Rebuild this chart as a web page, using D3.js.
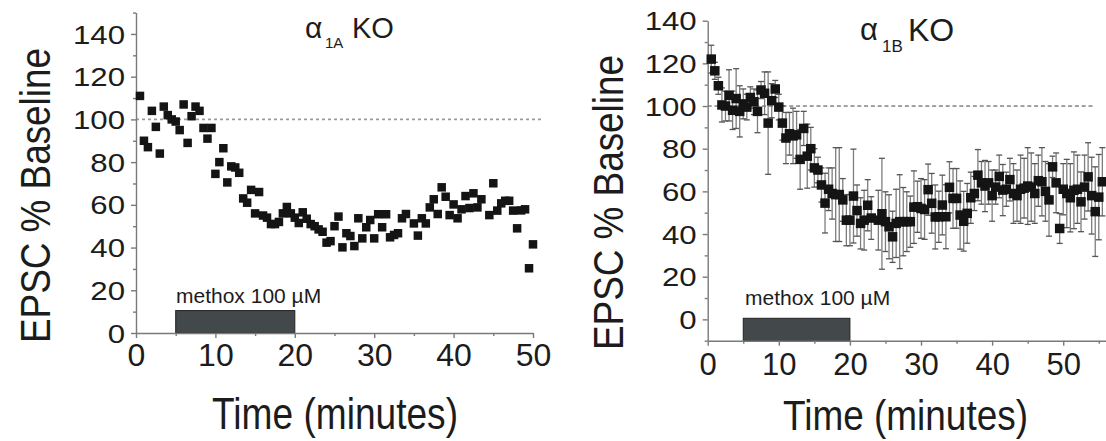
<!DOCTYPE html>
<html><head><meta charset="utf-8">
<script src="https://cdn.jsdelivr.net/npm/d3@7"></script>
<style>
body{margin:0;background:#fff;}
svg{display:block;}
text{font-family:"Liberation Sans",Arial,sans-serif;fill:#1c1c1c;}
</style>
</head><body>
<svg id="c" width="1106" height="441"></svg>
<script>
// ---------- data ----------
const leftTimes = [0.5,1,1.5,2,2.5,3,3.5,4,4.5,5,5.5,6,6.5,7,7.5,8,8.5,9,9.5,10,
  10.5,11,11.5,12,12.5,13,13.5,14,14.5,15,15.5,16,16.5,17,17.5,18,18.5,19,19.5,20,
  20.5,21,21.5,22,22.5,23,23.5,24,24.5,25,25.5,26,26.5,27,27.5,28,28.5,29,29.5,30,
  30.5,31,31.5,32,32.5,33,33.5,34,35,35.5,36,36.5,37,37.5,38,38.5,39,39.5,40,
  40.5,41,41.5,42,42.5,43,43.5,44.5,45,45.5,46,46.5,47,47.5,48,48.5,49,49.5,50];
const leftValues = [111,90,87,104,96.5,84,106,102,100,99,95,107,89,101.5,106,104,96,91,96,74.5,
  80,86.5,70.5,78,77.5,75,63,61,67,56,66,55,54,51,51,52,56,59,56,54,
  51.5,56.5,53.5,51,50,48.5,47.4,42.3,43,50,54.5,40.1,46.7,45.4,40.7,53.7,44.3,49.5,52.9,44.3,
  55.6,49.5,55.6,44.8,45.9,46.7,53.7,55.7,51.3,45.6,53.7,51.3,58.8,62.6,55.7,68.2,63.8,55.2,60.2,
  53.7,57.9,64.1,58.5,65.4,58.8,62.6,55.2,70.1,57.3,60.7,61.9,61.9,57.3,49,57.4,57.9,30.3,41.5];

const rightTimes = [0.5,1,1.5,2,2.5,3,3.5,4,4.5,5,5.5,6,6.5,7,7.5,8,8.5,9,9.5,10,
  10.5,11,11.5,12,12.5,13,13.5,14,14.5,15,15.5,16,16.5,17,17.5,18,18.5,19,19.5,20,
  20.5,21,21.5,22,22.5,23,24,24.5,25,25.5,26,26.5,27,27.5,28,28.5,29,29.5,30,
  30.5,31,31.5,32,32.5,33,33.5,34,34.5,35,35.5,36,36.5,37,37.5,38,38.5,39,39.5,40,
  40.5,41,41.5,42,42.5,43,43.5,44,44.5,45,45.5,46,46.5,47,47.5,48,48.5,49,49.5,50,
  50.5,51,51.5,52,52.5,53,53.5,54,54.5,55,55.5];
const rightValues = [122,116.5,109.5,100.5,100,105,98,103.5,97.5,101,99.5,104,102,97.5,107.5,106,92,102.5,108,99.5,
  92,85,87,86,86.5,75,89.5,76.5,80,71,70,63,54.5,61,59,58.5,58.5,56,46.5,46.5,
  57.8,51,45,46.5,53.5,47.5,46.5,49.5,45.8,43.4,38.7,45,45.8,45.8,45.8,45.8,52.6,52.8,52,
  51.5,60.8,54.4,48,48.1,53.6,48.1,61.9,56.7,56.7,48.9,46,49.7,57,59,67.6,64,62.5,64,58,
  62,67,60.6,61,65.5,59,58,61,61.5,62.5,62,59,65,64.5,60,56,71.5,64,42.6,61,
  59,57,60.5,61,55.1,62,66.8,58,50.5,57.3,64.5];
const rightErrors = [6.5,4,4,8,7,12,9,14,12,7,6,5,6,10,4,10,24,8,4,6,
  8,12,10,13,11,14,8,15,10,9,6,8,14,10,12,22,22,10,12,12,
  22,12,12,14,12,10,14,26,14,15,12,16,22,16,14,12,17,12,14,
  14,12,14,15,12,14,15,12,14,14,16,14,14,12,8,12,10,12,10,12,
  8,10,12,8,10,14,12,16,14,18,16,14,12,16,14,17,5,14,7,12,
  16,16,18,16,14,15,16,18,21,20,16];

const xTickLabels = [0,10,20,30,40,50];
const yTickLabels = [0,20,40,60,80,100,120,140];
const leftTitle = ["α","1A","KO"];
const rightTitle = ["α","1B","KO"];
const drugLabel = "methox 100 µM";
const xLabel = "Time (minutes)";
const yLabel = "EPSC % Baseline";

// ---------- layout ----------
const svg = d3.select("#c");
const panels = [
  {times: leftTimes, values: leftValues, errors: null, title: leftTitle,
   xDomain:[0,50], xRange:[136,533], yDomain:[0,150], yRange:[333,12.6],
   xMinor:[5,15,25,35,45], yMinor:[10,30,50,70,90,110,130,150],
   dotEnd: 51, barTop: 10.5, markerSize: 8.5,
   dotColor:"#9a9a9a", dotDash:"3,3", dotWidth:1.7,
   xLabelPos:[335,429,45,246], yLabelPos:[50,195.5,42,295],
   xTickFont:32, xTickOffset:10, drugPos:[176,303],
   titlePos:{a:[305,38,30], sub:[325,48,15], ko:[352,38,29]}},
  {times: rightTimes, values: rightValues, errors: rightErrors, title: rightTitle,
   xDomain:[0,56], xRange:[707.7,1105.9], yDomain:[-10,140], yRange:[340.7,20.7],
   xMinor:[5,15,25,35,45,55], yMinor:[-10,10,30,50,70,90,110,130],
   dotEnd: 54.5, barTop: 0.5, markerSize: 9.5,
   dotColor:"#444", dotDash:"4,2.8", dotWidth:1,
   xLabelPos:[905.5,430,42,245], yLabelPos:[623,202.5,42,295],
   xTickFont:31, xTickOffset:12, drugPos:[745,305],
   titlePos:{a:[860,40,31], sub:[882,52,17], ko:[908,41,32]}}
];

panels.forEach(p => {
  const g = svg.append("g");
  const x = d3.scaleLinear().domain(p.xDomain).range(p.xRange);
  const y = d3.scaleLinear().domain(p.yDomain).range(p.yRange);
  const yBase = p.yDomain[0];

  // baseline 100% dotted line
  g.append("line")
    .attr("x1", x(0)).attr("x2", x(p.dotEnd))
    .attr("y1", y(100)).attr("y2", y(100))
    .attr("stroke", p.dotColor).attr("stroke-width", p.dotWidth)
    .attr("stroke-dasharray", p.dotDash);

  // drug application bar
  g.append("rect")
    .attr("x", x(5)).attr("width", x(20) - x(5))
    .attr("y", y(p.barTop)).attr("height", y(yBase) - y(p.barTop))
    .attr("fill", "#43484b").attr("stroke", "#222").attr("stroke-width", 1);

  g.append("text").attr("x", p.drugPos[0]).attr("y", p.drugPos[1])
    .attr("font-size", 21).text(drugLabel);

  // axes
  const xAxis = g.append("g").attr("transform", `translate(0,${y(yBase)})`)
    .call(d3.axisBottom(x).tickValues(xTickLabels).tickSize(5).tickSizeOuter(0)
      .tickFormat(d3.format("d")));
  const xMinorAxis = g.append("g").attr("transform", `translate(0,${y(yBase)})`)
    .call(d3.axisBottom(x).tickValues(p.xMinor).tickSize(3).tickFormat(""));
  const yAxis = g.append("g").attr("transform", `translate(${x(0)},0)`)
    .call(d3.axisLeft(y).tickValues(yTickLabels).tickSize(5).tickSizeOuter(0)
      .tickFormat(d3.format("d")));
  const yMinorAxis = g.append("g").attr("transform", `translate(${x(0)},0)`)
    .call(d3.axisLeft(y).tickValues(p.yMinor).tickSize(3).tickFormat(""));
  [xMinorAxis, yMinorAxis].forEach(a => a.select(".domain").remove());
  [xAxis, xMinorAxis, yAxis, yMinorAxis].forEach(a => {
    a.selectAll("path,line").attr("stroke", "#7a7a7a").attr("stroke-width", 1.4);
  });
  xAxis.selectAll(".tick text")
    .attr("font-size", p.xTickFont).attr("fill", "#1c1c1c")
    .attr("y", p.xTickOffset).attr("dy", "0.71em")
    .style("font-family", '"Liberation Sans",Arial,sans-serif');
  const sx = 1.2;
  yAxis.selectAll(".tick text")
    .attr("font-size", 26).attr("fill", "#1c1c1c")
    .attr("x", -11 / sx).attr("dy", "0.35em")
    .attr("transform", `scale(${sx},1)`)
    .style("font-family", '"Liberation Sans",Arial,sans-serif');

  // error bars
  const pts = p.times.map((t, i) => ({t, v: p.values[i], e: p.errors ? p.errors[i] : 0}));
  if (p.errors) {
    const eb = g.append("g").attr("stroke", "#7d7d7d").attr("stroke-width", 1.3);
    pts.forEach(d => {
      eb.append("line").attr("x1", x(d.t)).attr("x2", x(d.t))
        .attr("y1", y(d.v - d.e)).attr("y2", y(d.v + d.e));
      [d.v - d.e, d.v + d.e].forEach(c => {
        eb.append("line").attr("x1", x(d.t) - 3).attr("x2", x(d.t) + 3)
          .attr("y1", y(c)).attr("y2", y(c)).attr("stroke", "#555");
      });
    });
  }

  // markers
  const s = p.markerSize;
  g.append("g").selectAll("rect").data(pts).join("rect")
    .attr("x", d => x(d.t) - s / 2).attr("y", d => y(d.v) - s / 2)
    .attr("width", s).attr("height", s).attr("fill", "#141414");

  // axis titles
  g.append("text").attr("x", p.xLabelPos[0]).attr("y", p.xLabelPos[1])
    .attr("text-anchor", "middle").attr("font-size", p.xLabelPos[2])
    .attr("textLength", p.xLabelPos[3]).attr("lengthAdjust", "spacingAndGlyphs")
    .text(xLabel);
  g.append("text")
    .attr("transform", `translate(${p.yLabelPos[0]},${p.yLabelPos[1]}) rotate(-90)`)
    .attr("text-anchor", "middle").attr("font-size", p.yLabelPos[2])
    .attr("textLength", p.yLabelPos[3]).attr("lengthAdjust", "spacingAndGlyphs")
    .text(yLabel);

  // panel title
  const tp = p.titlePos;
  g.append("text").attr("x", tp.a[0]).attr("y", tp.a[1]).attr("font-size", tp.a[2]).text(p.title[0]);
  g.append("text").attr("x", tp.sub[0]).attr("y", tp.sub[1]).attr("font-size", tp.sub[2]).text(p.title[1]);
  g.append("text").attr("x", tp.ko[0]).attr("y", tp.ko[1]).attr("font-size", tp.ko[2]).text(p.title[2]);
});
</script>
</body></html>
